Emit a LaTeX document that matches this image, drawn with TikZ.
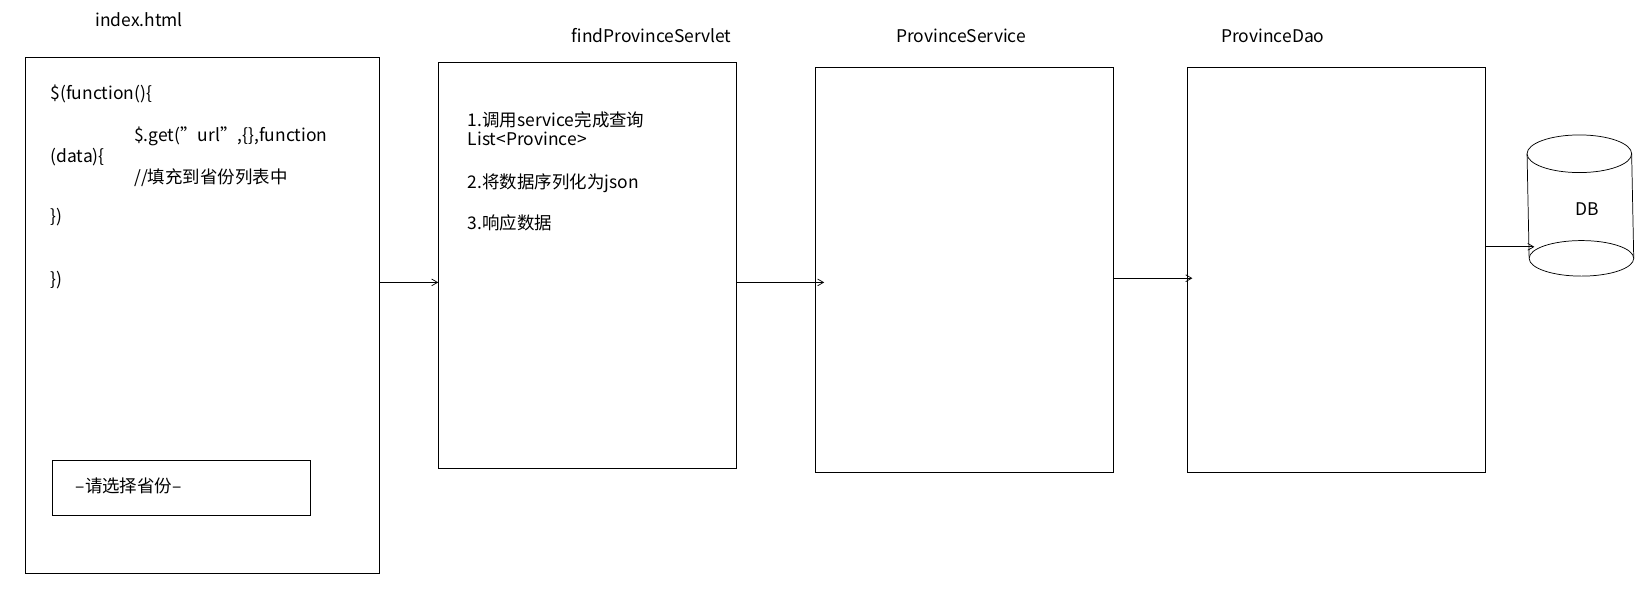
\documentclass[tikz,border=0pt]{standalone}
\usepackage{fontspec}
\setmainfont{Noto Sans CJK SC}
\usetikzlibrary{arrows,positioning,shapes.geometric}

\begin{document}
\begin{tikzpicture}[x=0.02cm,y=-0.02cm,font=\fontsize{9.5}{11}\selectfont,
	box/.style={draw,thin},
	txt/.style={anchor=west,inner sep=0pt}]
	\useasboundingbox (0,0) rectangle (1568,585);
	% boxes
	\draw[box] (24,55) rectangle (363,548);
	\draw[box] (50,440) rectangle (297,493);
	\draw[box] (419,60) rectangle (704,448);
	\draw[box] (780,64) rectangle (1064,452);
	\draw[box] (1135,64) rectangle (1420,452);
	% titles
	\node (T1) at (133,19) {index.html};
	\node (T2) at (623,34) {findProvinceServlet};
	\node (T3) at (919,34) {ProvinceService};
	\node (T4) at (1217,34) {ProvinceDao};
	% page code
	\node[txt] (c1) at (48,90) {\$(function()\{};
	\node[txt] (c2) at (128,130) {\$.get("url",\{\},function};
	\node[txt] (c3) at (48,150) {(data)\{};
	\node[txt] (c4) at (128,170) {//填充到省份列表中};
	\node[txt] (c5) at (48,208) {\})};
	\node[txt] (c6) at (48,268) {\})};
	\node[txt] (sel) at (72,465) {--请选择省份--};
	% servlet steps
	\node[txt] (s1) at (447,115) {1.调用service完成查询};
	\node[txt] (s2) at (447,133) {List<Province>};
	\node[txt] (s3) at (447,175) {2.将数据序列化为json};
	\node[txt] (s4) at (447,213) {3.响应数据};
	% DB
	\draw[box] (1460,147) -- (1462,247);
	\draw[box] (1560,147) -- (1562,247);
	\draw[box,fill=white] (1510,147) ellipse [x radius=50,y radius=18];
	\draw[box,fill=white] (1512,247) ellipse [x radius=50,y radius=17];
	\node (DB) at (1518,200) {DB};
	% connectors
	\coordinate (a1) at (363,270); \coordinate (b1) at (419,270);
	\coordinate (a2) at (704,270); \coordinate (b2) at (788,270);
	\coordinate (a3) at (1064,266); \coordinate (b3) at (1140,266);
	\coordinate (a4) at (1420,236); \coordinate (b4) at (1467,236);
	\foreach \i in {1,...,4}
		\path[->, >=angle 60] (a\i) edge (b\i);
\end{tikzpicture}
\end{document}
